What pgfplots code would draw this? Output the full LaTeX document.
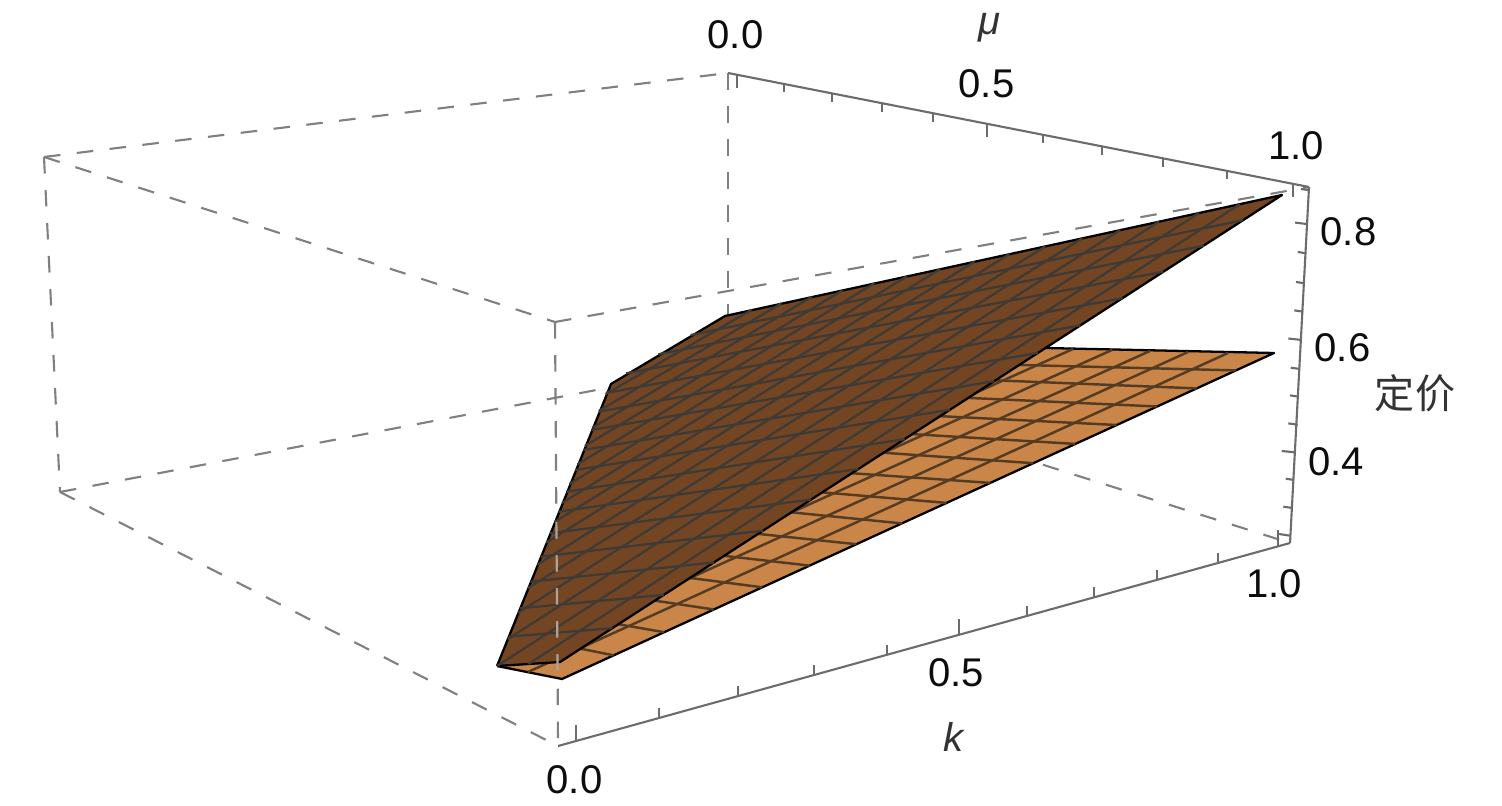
\documentclass[border=0pt]{standalone}
\usepackage{fontspec}
\usepackage{pgfplots}
\pgfplotsset{compat=1.18}
\setmainfont{Liberation Sans}
\newfontfamily\cjk{Noto Sans CJK SC}
\definecolor{darksurf}{RGB}{116,69,34}
\definecolor{lightsurf}{RGB}{201,134,72}
\definecolor{darkmesh}{RGB}{62,58,54}
\definecolor{lightmesh}{RGB}{84,60,36}
\definecolor{boxdash}{RGB}{128,128,128}
\definecolor{frontdash}{RGB}{172,164,156}
\definecolor{axisline}{RGB}{108,108,108}
\tikzset{
  boxd/.style={boxdash,line width=0.6pt,dash pattern=on 4.7pt off 4.7pt},
  frontd/.style={frontdash,line width=0.6pt,dash pattern=on 4.7pt off 4.7pt},
  ax/.style={axisline,line width=0.6pt},
  dm/.style={darkmesh,line width=0.65pt},
  lm/.style={lightmesh,line width=0.7pt},
  lab/.style={inner sep=0pt,font=\fontsize{11.4}{12}\selectfont,text=black!95},
}
\begin{document}
\begin{tikzpicture}
\useasboundingbox (0,0) rectangle (15.02cm,8.06cm);
\begin{axis}[
    scale only axis,
    width=15.02cm,
    height=8.06cm,
    xmin=0, xmax=1502,
    ymin=0, ymax=806,
    y dir=reverse,
    hide axis,
    no markers,
]
% box edges behind the surfaces
\addplot[boxd] coordinates {(44,157)(728,73)};
\addplot[boxd] coordinates {(44,157)(555,322)};
\addplot[boxd] coordinates {(555,322)(1309,187)};
\addplot[boxd] coordinates {(44,157)(60,492)};
\addplot[boxd] coordinates {(60,492)(558,746)};
\addplot[boxd] coordinates {(60,492)(728,365)};
\addplot[boxd] coordinates {(728,365)(1290,543)};
\addplot[boxd] coordinates {(728,73)(728,365)};
\addplot[boxd] coordinates {(555,322)(556.4,522)};
\addplot[boxd] coordinates {(557.7,688.6)(558,746)};

% lower surface
\addplot[fill=lightsurf,draw=black,line width=0.65pt,line join=round] coordinates {(497,666)(562,679)(1274,353)(1000,347)(497,666)};
\addplot[lm] coordinates {(570,646.6)(613.7,655.3)};
\addplot[lm] coordinates {(605,621.9)(664.2,632.2)};
\addplot[lm] coordinates {(640,598.4)(713.8,609.5)};
\addplot[lm] coordinates {(675,576)(762.3,587.3)};
\addplot[lm] coordinates {(710,554.2)(809.7,565.6)};
\addplot[lm] coordinates {(745,532.5)(856.3,544.2)};
\addplot[lm] coordinates {(778,511)(901.8,523.4)};
\addplot[lm] coordinates {(810,491.3)(946.5,502.9)};
\addplot[lm] coordinates {(840,472.4)(990.3,482.9)};
\addplot[lm] coordinates {(870,451.8)(1033.2,463.2)};
\addplot[lm] coordinates {(900,433.4)(1075.3,443.9)};
\addplot[lm] coordinates {(925,415.4)(1116.6,425)};
\addplot[lm] coordinates {(955,397.3)(1157,406.5)};
\addplot[lm] coordinates {(980,379.7)(1196.7,388.4)};
\addplot[lm] coordinates {(1005,364.6)(1235.8,370.4)};
\addplot[lm] coordinates {(528,672)(1228,353)};
\addplot[lm] coordinates {(680,582.6)(1188,352)};
\addplot[lm] coordinates {(775,519.8)(1150,351)};
\addplot[lm] coordinates {(865,461.2)(1112,350)};
\addplot[lm] coordinates {(960,399.9)(1073,349)};

% upper surface
\addplot[fill=darksurf,draw=black,line width=0.65pt,line join=round] coordinates {(497,666)(611,384)(725,316)(1282,195)(560,662)(497,666)};
% k lines
\addplot[dm] coordinates {(508.7,636.7)(612.4,628.1)};
\addplot[dm] coordinates {(520,608.3)(663.7,594.9)};
\addplot[dm] coordinates {(530.7,581.7)(713.9,562.4)};
\addplot[dm] coordinates {(540.6,556.7)(763.1,530.6)};
\addplot[dm] coordinates {(550,533.3)(811.2,499.5)};
\addplot[dm] coordinates {(558.6,511.7)(858.4,469)};
\addplot[dm] coordinates {(566.6,491.7)(904.6,439.1)};
\addplot[dm] coordinates {(575.3,470)(949.9,409.8)};
\addplot[dm] coordinates {(583.3,450)(994.3,381.1)};
\addplot[dm] coordinates {(591.3,430)(1037.8,352.9)};
\addplot[dm] coordinates {(598.6,411.7)(1080.5,325.3)};
\addplot[dm] coordinates {(606,393)(1122.4,298.2)};
\addplot[dm] coordinates {(626,373.4)(1163.4,271.7)};
\addplot[dm] coordinates {(658.4,354.3)(1203.7,245.7)};
\addplot[dm] coordinates {(690.7,335.1)(1243.2,220.1)};
% mu lines
\addplot[dm] coordinates {(605.7,394)(751.9,309.7)};
\addplot[dm] coordinates {(598.9,410.9)(781.5,303.3)};
\addplot[dm] coordinates {(592.2,427.8)(811.8,296.8)};
\addplot[dm] coordinates {(584.9,446)(842.8,290.1)};
\addplot[dm] coordinates {(577.5,464.4)(874.5,283.2)};
\addplot[dm] coordinates {(569.5,483.9)(907,276.2)};
\addplot[dm] coordinates {(562.1,502.9)(940.3,269)};
\addplot[dm] coordinates {(554.5,522)(974.6,261.6)};
\addplot[dm] coordinates {(546.2,542.7)(1009.5,254)};
\addplot[dm] coordinates {(537.4,564.7)(1045.5,246.2)};
\addplot[dm] coordinates {(528.1,588)(1082.3,238.2)};
\addplot[dm] coordinates {(518.2,612.8)(1120.2,230)};
\addplot[dm] coordinates {(507.8,639)(1159,221.6)};
\addplot[dm] coordinates {(497,666)(1198.9,213)};
\addplot[dm] coordinates {(528.5,664)(1239.9,204.1)};

% front vertical edge shows through
\addplot[frontd] coordinates {(556.4,522)(557.6,677)};

% axes
\addplot[ax] coordinates {(728,73)(1309,187)};
\addplot[ax] coordinates {(1309,187)(1290,543)};
\addplot[ax] coordinates {(558,746)(1290,543)};
% k ticks
\addplot[ax] coordinates {(576,741)(576,725)};
\addplot[ax] coordinates {(659,718)(659,708)};
\addplot[ax] coordinates {(738,696.1)(738,686.1)};
\addplot[ax] coordinates {(814,675)(814,665)};
\addplot[ax] coordinates {(887,654.8)(887,644.8)};
\addplot[ax] coordinates {(959,634.8)(959,618.8)};
\addplot[ax] coordinates {(1027,615.9)(1027,605.9)};
\addplot[ax] coordinates {(1094,597.4)(1094,587.4)};
\addplot[ax] coordinates {(1157,579.9)(1157,569.9)};
\addplot[ax] coordinates {(1218,563)(1218,553)};
\addplot[ax] coordinates {(1278,546.3)(1278,530.3)};
% mu ticks
\addplot[ax] coordinates {(737,74.8)(737,88)};
\addplot[ax] coordinates {(784,84)(784,92.5)};
\addplot[ax] coordinates {(832,93.4)(832,102)};
\addplot[ax] coordinates {(882,103.2)(882,112)};
\addplot[ax] coordinates {(933,113.2)(933,122)};
\addplot[ax] coordinates {(987,123.8)(987,137)};
\addplot[ax] coordinates {(1043,134.8)(1043,143.5)};
\addplot[ax] coordinates {(1102,146.4)(1102,155)};
\addplot[ax] coordinates {(1163,158.3)(1163,167)};
\addplot[ax] coordinates {(1227,170.9)(1227,179.5)};
\addplot[ax] coordinates {(1293,183.9)(1293,197)};
% z ticks
\addplot[ax] coordinates {(1308,190)(1301,189)};
\addplot[ax] coordinates {(1306.7,224)(1295,222.6)};
\addplot[ax] coordinates {(1306,253.3)(1297.7,252)};
\addplot[ax] coordinates {(1304.7,283.3)(1296,282)};
\addplot[ax] coordinates {(1303.3,311.7)(1294.3,310.4)};
\addplot[ax] coordinates {(1301.7,340)(1288.3,338.5)};
\addplot[ax] coordinates {(1300,369)(1290.7,367.7)};
\addplot[ax] coordinates {(1299,396.7)(1290,395.4)};
\addplot[ax] coordinates {(1297.7,424.7)(1288.3,423.4)};
\addplot[ax] coordinates {(1295.7,452.4)(1281.7,451)};
\addplot[ax] coordinates {(1294,480)(1285.7,478.7)};
\addplot[ax] coordinates {(1292.7,508)(1283.3,506.7)};
\addplot[ax] coordinates {(1290,535.7)(1279,534)};

% labels
\node[lab] at (axis cs:735.5,34.5) {0.0};
\node[lab] at (axis cs:986.5,84) {0.5};
\node[lab] at (axis cs:1296,146) {1.0};
\node[lab,text=black!80] at (axis cs:989,28) {\textit{μ}};
\node[lab] at (axis cs:1348.5,231.5) {0.8};
\node[lab] at (axis cs:1342.5,348) {0.6};
\node[lab] at (axis cs:1336,462) {0.4};
\node[lab,text=black!80] at (axis cs:1415,393) {\cjk 定价};
\node[lab] at (axis cs:574.5,780) {0.0};
\node[lab] at (axis cs:956,673) {0.5};
\node[lab] at (axis cs:1274,584) {1.0};
\node[lab,text=black!80] at (axis cs:954,737) {\textit{k}};
\end{axis}
\end{tikzpicture}
\end{document}
